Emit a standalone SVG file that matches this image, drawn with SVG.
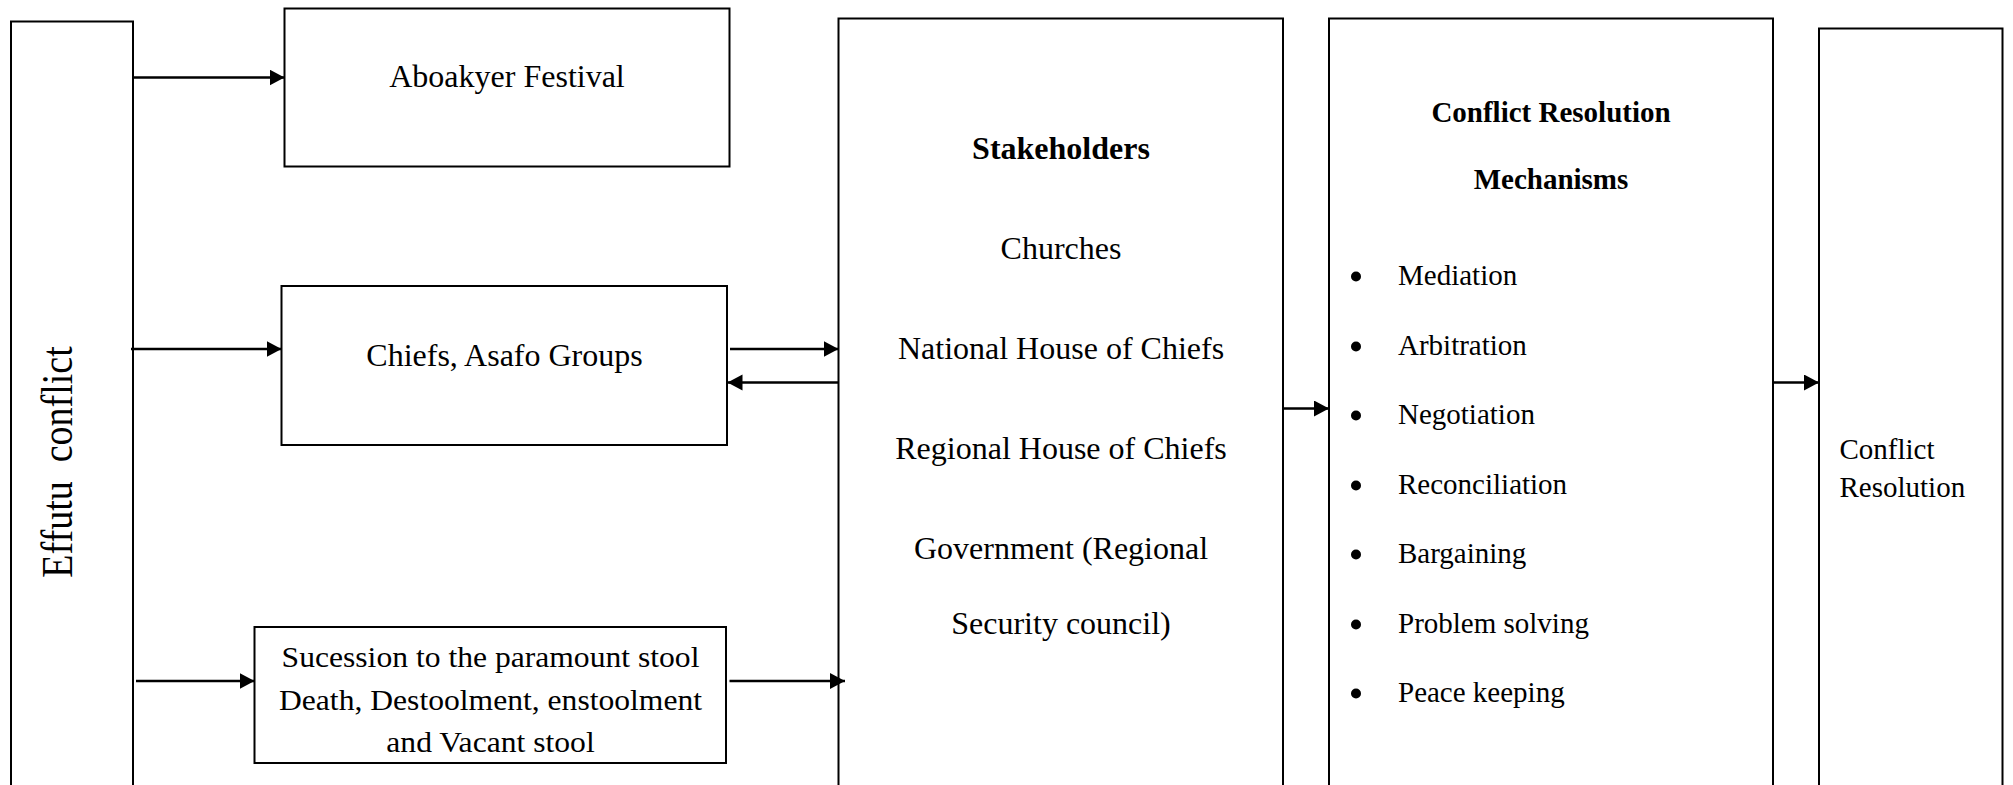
<svg xmlns="http://www.w3.org/2000/svg" width="2013" height="785" viewBox="0 0 2013 785">
<defs>
<style>
.box{fill:#fff;stroke:#000;stroke-width:2}
.t{font-family:"Liberation Serif","Times New Roman",serif;fill:#000}
.t32{font-size:32px}
.t29{font-size:29px}
.b{font-weight:bold}
.mid{text-anchor:middle}
.con line{stroke:#000;stroke-width:2.6}
</style>
<marker id="ah" markerUnits="userSpaceOnUse" markerWidth="16" markerHeight="17" refX="15" refY="8" orient="auto">
<path d="M0,0 L15,8 L0,16 Z" fill="#000"/>
</marker>
</defs>
<rect width="2013" height="785" fill="#fff"/>

<g id="effutu">
<rect class="box" x="11" y="21.5" width="122" height="800" stroke-width="1.6"/>
<text class="t mid" font-size="38" transform="translate(71.5,462) scale(1.14,1) rotate(-90)" x="0" y="0" xml:space="preserve">Effutu  conflict</text>
</g>

<g id="aboakyer">
<rect class="box" x="284.5" y="8.5" width="445" height="158"/>
<text class="t t32 mid" x="507" y="87">Aboakyer Festival</text>
</g>

<g id="chiefs">
<rect class="box" x="281.5" y="286" width="445.5" height="159"/>
<text class="t t32 mid" x="504.5" y="366">Chiefs, Asafo Groups</text>
</g>

<g id="succession">
<rect class="box" x="254.5" y="627" width="471.5" height="136"/>
<text class="t mid" font-size="29" transform="translate(490.5,667.3) scale(1.09,1)">Sucession to the paramount stool</text>
<text class="t mid" font-size="29" transform="translate(490.5,710) scale(1.09,1)">Death, Destoolment, enstoolment</text>
<text class="t mid" font-size="29" transform="translate(490.5,751.5) scale(1.09,1)">and Vacant stool</text>
</g>

<g id="stakeholders">
<rect class="box" x="838.5" y="18.5" width="444.5" height="800"/>
<text class="t t32 b mid" x="1061" y="159">Stakeholders</text>
<text class="t t32 mid" x="1061" y="258.5">Churches</text>
<text class="t t32 mid" x="1061" y="359">National House of Chiefs</text>
<text class="t t32 mid" x="1061" y="459">Regional House of Chiefs</text>
<text class="t t32 mid" x="1061" y="559">Government (Regional</text>
<text class="t t32 mid" x="1061" y="633.5">Security council)</text>
</g>

<g id="mechanisms">
<rect class="box" x="1329" y="18.5" width="444" height="800"/>
<text class="t t29 b mid" x="1551" y="122">Conflict Resolution</text>
<text class="t t29 b mid" x="1551" y="188.5">Mechanisms</text>
<g fill="#000">
<circle cx="1356" cy="276.5" r="5"/>
<circle cx="1356" cy="346.5" r="5"/>
<circle cx="1356" cy="415.5" r="5"/>
<circle cx="1356" cy="485.5" r="5"/>
<circle cx="1356" cy="554.5" r="5"/>
<circle cx="1356" cy="624.5" r="5"/>
<circle cx="1356" cy="693.5" r="5"/>
</g>
<text class="t t29" x="1398" y="285">Mediation</text>
<text class="t t29" x="1398" y="355">Arbitration</text>
<text class="t t29" x="1398" y="424">Negotiation</text>
<text class="t t29" x="1398" y="494">Reconciliation</text>
<text class="t t29" x="1398" y="563">Bargaining</text>
<text class="t t29" x="1398" y="633">Problem solving</text>
<text class="t t29" x="1398" y="702">Peace keeping</text>
</g>

<g id="resolution">
<rect class="box" x="1819" y="28.5" width="183.5" height="800"/>
<text class="t t29" x="1839.5" y="458.5">Conflict</text>
<text class="t t29" x="1839.5" y="497">Resolution</text>
</g>

<g id="connectors" class="con">
<line x1="133" y1="77.5" x2="284.5" y2="77.5" marker-end="url(#ah)"/>
<line x1="131" y1="349" x2="281.5" y2="349" marker-end="url(#ah)"/>
<line x1="730" y1="349" x2="838.5" y2="349" marker-end="url(#ah)"/>
<line x1="838.5" y1="382.5" x2="727.5" y2="382.5" marker-end="url(#ah)"/>
<line x1="136" y1="681" x2="254.5" y2="681" marker-end="url(#ah)"/>
<line x1="729.5" y1="681" x2="845" y2="681" marker-end="url(#ah)"/>
<line x1="1283.5" y1="408.5" x2="1329" y2="408.5" marker-end="url(#ah)"/>
<line x1="1773" y1="382.5" x2="1819" y2="382.5" marker-end="url(#ah)"/>
</g>
</svg>
